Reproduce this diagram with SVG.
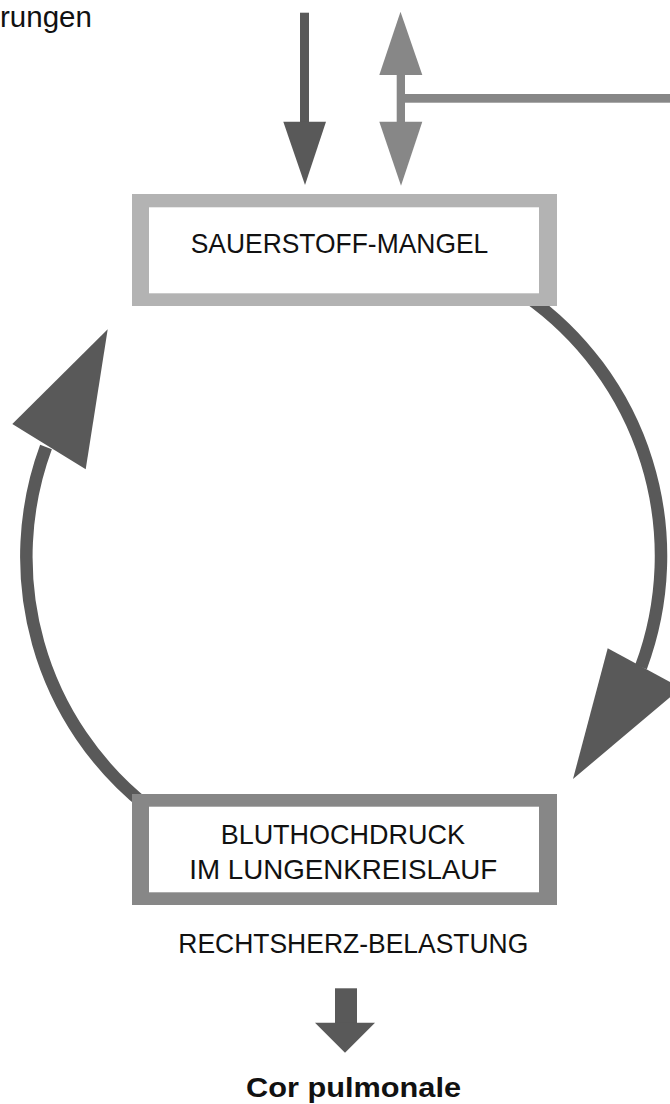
<svg xmlns="http://www.w3.org/2000/svg" width="670" height="1104" viewBox="0 0 670 1104">
<style>
.lbl{font-family:"Liberation Sans",Arial,sans-serif;font-size:28px;fill:#111;text-anchor:middle}
.dark{fill:#595959}
.mid{fill:#878787}
.arc{fill:none;stroke:#595959;stroke-width:12.5}
</style>
<rect width="670" height="1104" fill="#fff"/>
<g id="connectors">
<path class="arc" d="M 525.4 295.5 A 318 318 0 0 1 641 667"/>
<polygon class="dark" points="607.7,648.3 681,688 573,779"/>
<path class="arc" d="M 147.2 806.6 A 318 318 0 0 1 46 447"/>
<polygon class="dark" points="107.7,329.3 12.3,424 85.7,469.3"/>
<rect class="dark" x="300" y="12.7" width="9" height="110"/>
<polygon class="dark" points="283.3,121.7 326,121.7 305,185"/>
<rect class="mid" x="396.7" y="74" width="8.3" height="49"/>
<polygon class="mid" points="400.5,11.7 379.3,75 422.3,75"/>
<polygon class="mid" points="379.3,121.7 422.3,121.7 401,185.7"/>
<rect class="mid" x="404" y="94" width="266" height="8.7"/>
<rect class="dark" x="335" y="988.3" width="22" height="35"/>
<polygon class="dark" points="315,1022.7 375,1022.7 345,1052.7"/>
</g>
<g id="label-rungen">
<text x="0" y="27" font-family="Liberation Sans, Arial, sans-serif" font-size="29.5" fill="#111">rungen</text>
</g>
<g id="node-sauerstoff">
<rect x="132" y="194" width="425" height="112" fill="#b3b3b3"/>
<rect x="149" y="207.3" width="390" height="86" fill="#fff"/>
<text class="lbl" x="339.5" y="252.7" textLength="297.6" lengthAdjust="spacingAndGlyphs">SAUERSTOFF-MANGEL</text>
</g>
<g id="node-bluthochdruck">
<rect x="132" y="794" width="425" height="111" fill="#878787"/>
<rect x="149" y="806.7" width="390" height="85.6" fill="#fff"/>
<text class="lbl" x="342.8" y="844" textLength="244.3" lengthAdjust="spacingAndGlyphs">BLUTHOCHDRUCK</text>
<text class="lbl" x="343.3" y="878.7" textLength="308" lengthAdjust="spacingAndGlyphs">IM LUNGENKREISLAUF</text>
</g>
<g id="label-rechtsherz">
<text class="lbl" x="353.3" y="953.3" textLength="350" lengthAdjust="spacingAndGlyphs">RECHTSHERZ-BELASTUNG</text>
</g>
<g id="label-cor">
<text class="lbl" x="353.5" y="1097" font-size="30" font-weight="bold" textLength="215" lengthAdjust="spacingAndGlyphs">Cor pulmonale</text>
</g>
</svg>
